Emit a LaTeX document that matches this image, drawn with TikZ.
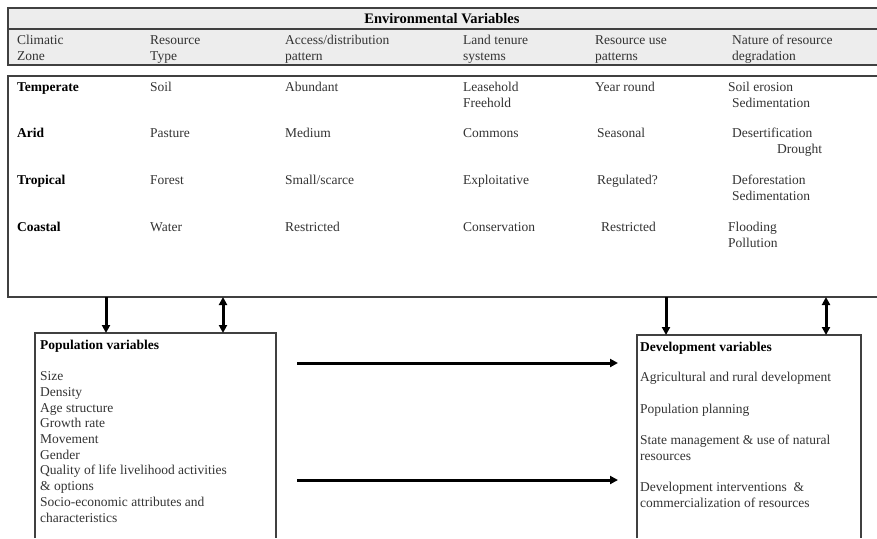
\documentclass[tikz,border=0pt]{standalone}
\usepackage{fontspec}
\setmainfont{Liberation Serif}
\usepackage{tikz}
\usetikzlibrary{arrows.meta}

\tikzset{
  txt/.style={anchor=base west, inner sep=0pt, align=left, text=black!80,
    font=\fontsize{13.5}{15.6}\selectfont},
  bold/.style={txt, text=black, font=\fontsize{13.5}{15.6}\selectfont\bfseries},
  frame/.style={draw=black!75, line width=1.4pt},
  flow/.style={line width=3pt, black},
}

\begin{document}
\begin{tikzpicture}[x=1pt, y=-1pt, >={Triangle[length=8pt,width=8pt]}]
\useasboundingbox (0,0) rectangle (877,538);

% header of the table (multi-line nodes sit on their last baseline)
\draw[frame, fill=black!7] (877,8) -- (8,8) -- (8,65) -- (877,65);
\draw[frame] (8,29) -- (877,29);
\node[bold, anchor=base, font=\fontsize{14.5}{16}\selectfont\bfseries] (title) at (442,23) {Environmental Variables};
\node[txt] (hzone) at (17,60) {Climatic\\Zone};
\node[txt] (htype) at (150,60) {Resource\\Type};
\node[txt] (haccess) at (285,60) {Access/distribution\\pattern};
\node[txt] (htenure) at (463,60) {Land tenure\\systems};
\node[txt] (huse) at (595,60) {Resource use\\patterns};
\node[txt] (hdegr) at (732,60) {Nature of resource\\degradation};

% body of the table
\draw[frame, line width=1.6pt] (877,76) -- (8,76) -- (8,297) -- (877,297);

\node[bold] (temperate) at (17,91) {Temperate};
\node[txt] (soil) at (150,91) {Soil};
\node[txt] (abundant) at (285,91) {Abundant};
\node[txt] (lease) at (463,107) {Leasehold\\Freehold};
\node[txt] (yearround) at (595,91) {Year round};
\node[txt] (erosion) at (728,91) {Soil erosion};
\node[txt] (sedim) at (732,107) {Sedimentation};

\node[bold] (arid) at (17,137) {Arid};
\node[txt] (pasture) at (150,137) {Pasture};
\node[txt] (medium) at (285,137) {Medium};
\node[txt] (commons) at (463,137) {Commons};
\node[txt] (seasonal) at (597,137) {Seasonal};
\node[txt] (desert) at (732,137) {Desertification};
\node[txt] (drought) at (777,153) {Drought};

\node[bold] (tropical) at (17,184) {Tropical};
\node[txt] (forest) at (150,184) {Forest};
\node[txt] (scarce) at (285,184) {Small/scarce};
\node[txt] (exploit) at (463,184) {Exploitative};
\node[txt] (regul) at (597,184) {Regulated?};
\node[txt] (defor) at (732,200) {Deforestation\\Sedimentation};

\node[bold] (coastal) at (17,231) {Coastal};
\node[txt] (water) at (150,231) {Water};
\node[txt] (restrA) at (285,231) {Restricted};
\node[txt] (conserv) at (463,231) {Conservation};
\node[txt] (restrB) at (601,231) {Restricted};
\node[txt] (flood) at (728,247) {Flooding\\Pollution};

% population box
\draw[frame, line width=1.2pt] (35,538) -- (35,333) -- (276,333) -- (276,538);
\node[bold] (poptitle) at (40,349) {Population variables};
\node[txt, font=\fontsize{13.5}{15.67}\selectfont] (poplist) at (40,522)
  {Size\\Density\\Age structure\\Growth rate\\Movement\\Gender\\
   Quality of life livelihood activities\\\& options\\
   Socio-economic attributes and\\characteristics};

% development box
\draw[frame, line width=1.2pt] (637,538) -- (637,335) -- (861,335) -- (861,538);
\node[bold] (devtitle) at (640,351) {Development variables};
\node[txt] (agri) at (640,381) {Agricultural and rural development};
\node[txt] (planning) at (640,413) {Population planning};
\node[txt] (state) at (640,460) {State management \& use of natural\\resources};
\node[txt] (interv) at (640,507) {Development interventions~ \&\\commercialization of resources};

% arrows
\coordinate (envA) at (106,297);
\coordinate (popA) at (106,333);
\coordinate (envB) at (223,297);
\coordinate (popB) at (223,333);
\coordinate (envC) at (666,297);
\coordinate (devC) at (666,335);
\coordinate (envD) at (826,297);
\coordinate (devD) at (826,335);
\coordinate (linkAs) at (297,363);
\coordinate (linkAe) at (618,363);
\coordinate (linkBs) at (297,480);
\coordinate (linkBe) at (618,480);

\draw[flow, ->] (envA) -- (popA);
\draw[flow, <->] (envB) -- (popB);
\draw[flow, ->] (envC) -- (devC);
\draw[flow, <->] (envD) -- (devD);
\draw[flow, ->] (linkAs) -- (linkAe);
\draw[flow, ->] (linkBs) -- (linkBe);

\end{tikzpicture}
\end{document}
